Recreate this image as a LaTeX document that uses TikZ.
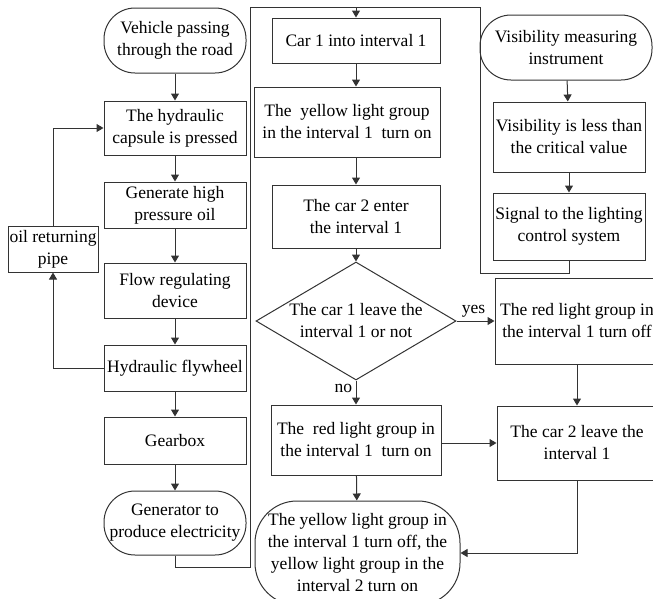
\documentclass[tikz,border=0pt]{standalone}
\usepackage{fontspec}
\setmainfont{Liberation Serif}
\usetikzlibrary{arrows.meta,shapes.geometric}

\begin{document}
\begin{tikzpicture}[x=1pt,y=-1pt,font=\fontsize{17.5}{22}\selectfont,
	box/.style={draw=black!80,line width=1pt,align=center,inner sep=1pt},
	term/.style={box,rounded corners=31pt},
	decision/.style={box,shape=diamond,aspect=1.7,inner sep=0pt},
	flow/.style={draw=black!80,line width=1pt,-{Triangle[length=7pt,width=8pt]}},
	wire/.style={draw=black!80,line width=1pt}]
	\useasboundingbox (0,0) rectangle (653,598);
	% left column
	\node[term,minimum width=142pt,minimum height=65pt] (veh) at (175,40.5) {Vehicle passing\\through the road};
	\node[box,minimum width=142pt,minimum height=54pt] (cap) at (175,128) {The hydraulic\\capsule is pressed};
	\node[box,minimum width=142pt,minimum height=46pt] (hpo) at (175,205) {Generate high\\pressure oil};
	\node[box,minimum width=142pt,minimum height=55pt] (reg) at (175,290.5) {Flow regulating\\device};
	\node[box,minimum width=142pt,minimum height=46pt] (fly) at (175,368) {Hydraulic flywheel};
	\node[box,minimum width=142pt,minimum height=47pt] (gear) at (175,440.5) {Gearbox};
	\node[term,minimum width=142pt,minimum height=64pt] (elec) at (175,523) {Generator to\\produce electricity};
	\node[box,minimum width=90pt,minimum height=46pt] (oil) at (53,249) {oil returning\\pipe};
	% middle column
	\node[box,minimum width=168pt,minimum height=45pt] (car1) at (356,40.5) {Car 1 into interval 1};
	\node[box,minimum width=186pt,minimum height=70pt] (yon) at (347,122) {The\ \ yellow light group\\in the interval 1\ \ turn on};
	\node[box,minimum width=168pt,minimum height=63pt] (c2e) at (356,216.5) {The car 2 enter\\the interval 1};
	\node[decision,minimum width=200pt,minimum height=118pt] (dia) at (356,321) {The car 1 leave the\\interval 1 or not};
	\node[box,minimum width=164pt,minimum height=86pt] (roff) at (577,321) {The red light group in\\the interval 1 turn off};
	\node[box,minimum width=170pt,minimum height=70pt] (ron) at (356,440) {The\ \ red light group in\\the interval 1\ \ turn on};
	\node[box,minimum width=160pt,minimum height=74pt] (c2l) at (577,443) {The car 2 leave the\\interval 1};
	\node[term,rounded corners=42pt,minimum width=205pt,minimum height=104pt] (fin) at (357.5,553) {The yellow light group in\\the interval 1 turn off, the\\yellow light group in the\\interval 2 turn on};
	% right column
	\node[term,minimum width=172pt,minimum height=65pt] (vis) at (566,47.5) {Visibility measuring\\instrument};
	\node[box,minimum width=152pt,minimum height=70pt] (vless) at (569,137) {Visibility is less than\\the critical value};
	\node[box,minimum width=152pt,minimum height=67pt] (sig) at (569,226.5) {Signal to the lighting\\control system};
	% bus
	\coordinate (lb) at (250,567);
	\coordinate (lt) at (250,7);
	\coordinate (rt) at (480,7);
	\coordinate (rb) at (480,273);

	\draw[flow] (veh) -- (cap);
	\draw[flow] (cap) -- (hpo);
	\draw[flow] (hpo) -- (reg);
	\draw[flow] (reg) -- (fly);
	\draw[flow] (fly) -- (gear);
	\draw[flow] (gear) -- (elec);
	\draw[flow] (fly.west) -| (oil.south);
	\draw[flow] (oil.north) |- (cap.west);

	\draw[wire] (elec.south) |- (lb) -- (lt) -- (rt) -- (rb) -| (sig.south);
	\draw[flow] (car1.north |- lt) -- (car1.north);

	\draw[flow] (car1) -- (car1.south |- yon.north);
	\draw[flow] (c2e.north |- yon.south) -- (c2e.north);
	\draw[flow] (c2e) -- (dia);
	\draw[flow] (dia.east) -- node[above,pos=0.45] {yes} (roff.west);
	\draw[flow] (dia.south) -- node[left,pos=0.35] {no} (ron.north);
	\draw[flow] (roff) -- (c2l);
	\draw[flow] (ron.east |- c2l.west) -- (c2l.west);
	\draw[flow] (ron) -- (fin);
	\draw[flow] (c2l.south) |- (fin.east);

	\draw[flow] (vis) -- (vless);
	\draw[flow] (vless) -- (sig);
\end{tikzpicture}
\end{document}
